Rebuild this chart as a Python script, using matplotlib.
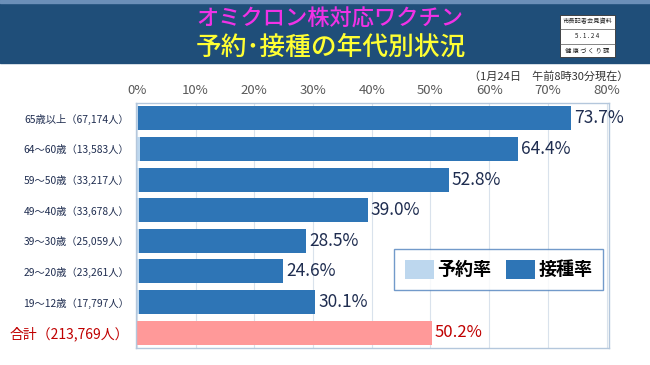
import matplotlib.pyplot as plt
from matplotlib.patches import Rectangle, Patch

plt.rcParams['font.family'] = ['Noto Sans CJK JP', 'DejaVu Sans']

# age groups, people, and rates (%)
groups = ["65歳以上", "64～60歳", "59～50歳", "49～40歳", "39～30歳", "29～20歳", "19～12歳", "合計"]
people = ["67,174", "13,583", "33,217", "33,678", "25,059", "23,261", "17,797", "213,769"]
reserve_rate = [0.2, 0.5, 0.3, 0.3, 0.3, 0.3, 0.3, 0.0]
vacc_rate = [73.7, 64.4, 52.8, 39.0, 28.5, 24.6, 30.1, 50.2]

W, H = 650, 365
fig = plt.figure(figsize=(6.5, 3.65), dpi=100)

# header band
fig.patches.append(Rectangle((0, 1 - 63 / H), 1, 63 / H, transform=fig.transFigure,
                             color="#1f4e79", zorder=0))
fig.patches.append(Rectangle((0, 1 - 3 / H), 1, 3 / H, transform=fig.transFigure,
                             color="#6b8fb8", zorder=1))
fig.text(330 / W, 1 - 19 / H, "オミクロン株対応ワクチン", color="#f032e6", fontsize=16,
         ha="center", va="center", weight="medium")
fig.text(331 / W, 1 - 47 / H, "予約･接種の年代別状況", color="#ffff33", fontsize=18.5,
         ha="center", va="center", weight="medium")

# small stamp box
fig.patches.append(Rectangle((560 / W, 1 - 57 / H), 55 / W, 42 / H, transform=fig.transFigure,
                             facecolor="white", edgecolor="#333333", lw=0.6, zorder=2))
for yy, txt in [(21, "市長記者会見資料"), (36, "5 . 1 . 2 4"), (51, "健 康 づ く り 課")]:
    fig.text(587.5 / W, 1 - yy / H, txt, fontsize=4.5, color="#222222",
             ha="center", va="center", zorder=3)
for yy in [28.5, 43.5]:
    fig.lines.append(plt.Line2D([560 / W, 615 / W], [1 - yy / H] * 2, transform=fig.transFigure,
                                color="#555555", lw=0.5, zorder=3))

fig.text(628 / W, 1 - 76 / H, "（1月24日　午前8時30分現在）", fontsize=8, color="#333333",
         ha="right", va="center")

ax = fig.add_axes([136 / W, 1 - 348 / H, 473 / W, 245 / H])
y = list(range(len(groups)))
dark = ["#2e75b6"] * 7 + ["#ff9999"]
ax.barh(y, reserve_rate, height=0.78, color="#bdd7ee", zorder=2)
ax.barh(y, vacc_rate, left=reserve_rate, height=0.78, color=dark, zorder=2)

for i in y:
    end = reserve_rate[i] + vacc_rate[i]
    col = "#c00000" if i == 7 else "#1f2d50"
    ax.text(end + 0.5, i, f"{vacc_rate[i]:.1f}%", va="center", ha="left",
            fontsize=12.5 if i < 7 else 12, color=col)

ax.set_xlim(-0.15, 80.4)
ax.set_ylim(len(groups) - 0.5, -0.5)
ax.set_xticks(range(0, 81, 10))
ax.set_xticklabels([f"{v}%" for v in range(0, 81, 10)], fontsize=9.5, color="#595959")
ax.xaxis.tick_top()
ax.tick_params(axis="x", length=0, pad=4)
ax.set_yticks(y)
labels = [f"{g}（{p}人）" for g, p in zip(groups, people)]
ax.set_yticklabels(labels)
ax.tick_params(axis="y", length=0, pad=5)
for i, t in enumerate(ax.get_yticklabels()):
    if i == 7:
        t.set_color("#c00000")
        t.set_fontsize(10)
    else:
        t.set_color("#1f2d50")
        t.set_fontsize(7.4)
ax.grid(axis="x", color="#d9e2ec", lw=0.8, zorder=0)
for s in ax.spines.values():
    s.set_color("#b4c7dc")
    s.set_linewidth(1.0)

handles = [Patch(facecolor="#bdd7ee", label="予約率"), Patch(facecolor="#2e75b6", label="接種率")]
leg = fig.legend(handles=handles, loc="center", bbox_to_anchor=(498.5 / W, 1 - 269.5 / H),
                 ncol=2, frameon=True, fancybox=False, handlelength=1.6,
                 handleheight=1.3, handletextpad=0.2, columnspacing=0.8, borderpad=0.6,
                 prop={"weight": "bold", "size": 13})
leg.get_frame().set_edgecolor("#4f81bd")
leg.get_frame().set_linewidth(1.0)

fig.savefig("out.png", dpi=100)
